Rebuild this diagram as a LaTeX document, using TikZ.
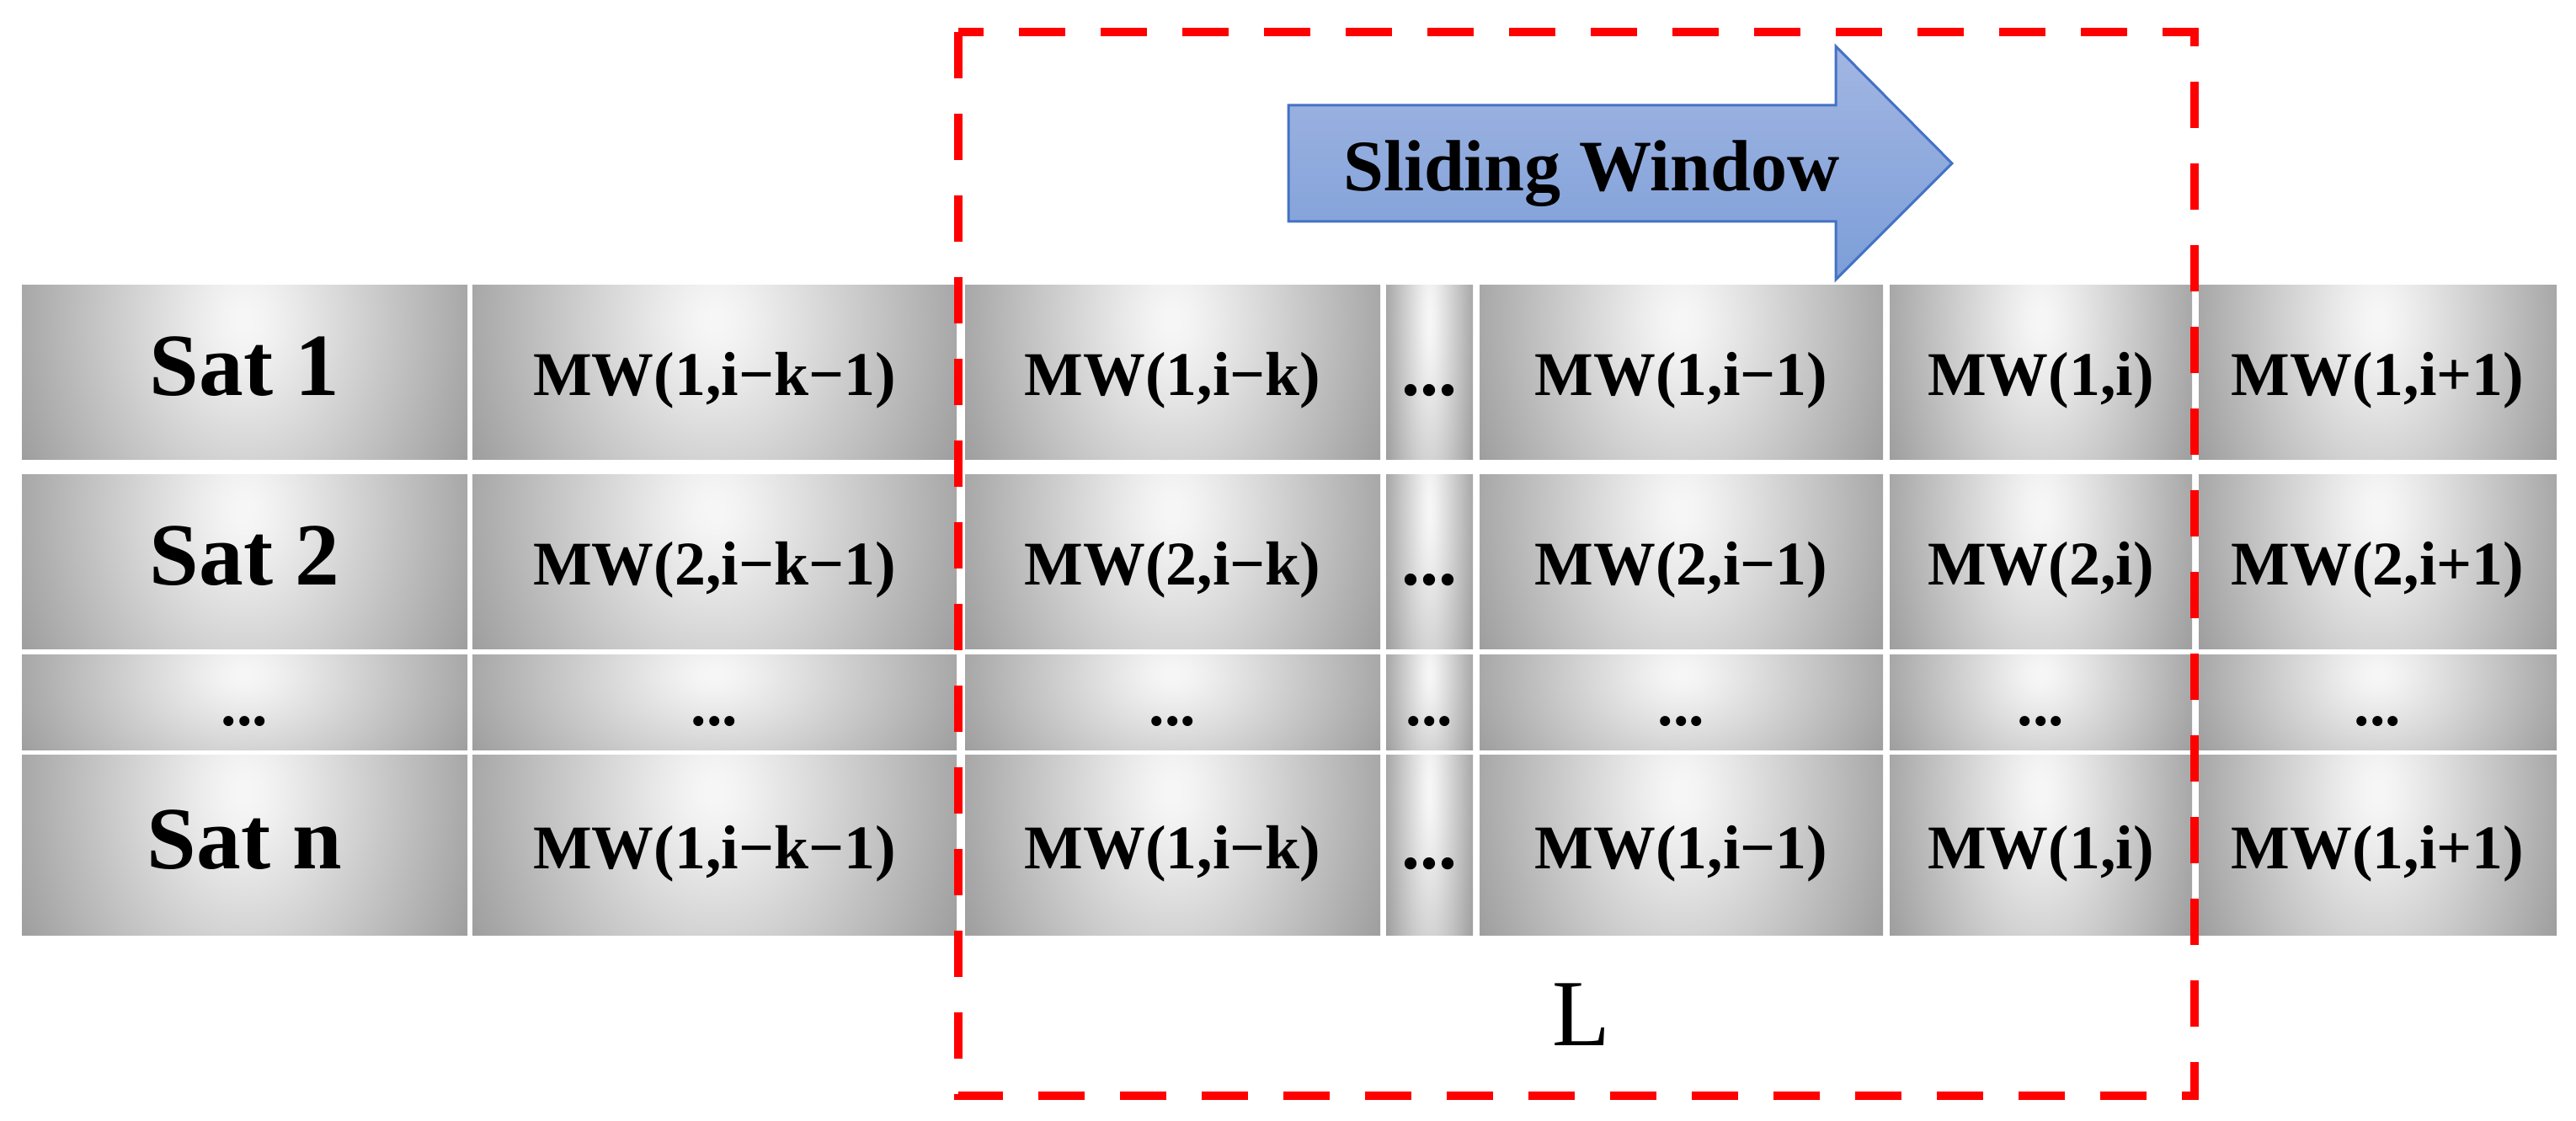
\documentclass[tikz,border=0pt]{standalone}
\usepackage{fontspec}
\setmainfont{Liberation Serif}
\usetikzlibrary{shadings}

% soft gray cell face: bright spot near the top, darker towards the sides
\pgfdeclarefunctionalshading{cellshade}{\pgfpoint{-50bp}{-50bp}}{\pgfpoint{50bp}{50bp}}{}{
  15 sub 25 div 0.31 mul dup mul
  exch 25 div dup mul
  add 0.01 add sqrt 0.34 mul
  1 exch sub dup dup
}

\begin{document}
\begin{tikzpicture}[line join=miter]
  % ----- styles & colors -----
  \definecolor{winred}{RGB}{255,0,0}
  \definecolor{arrowtop}{RGB}{162,182,226}
  \definecolor{arrowbot}{RGB}{124,158,216}
  \definecolor{arrowline}{RGB}{68,114,196}
  \tikzset{
    cell/.style={rectangle,shade,shading=cellshade,inner sep=0pt,
      text height=0.55cm,text depth=0pt,
      font=\bfseries\fontsize{21}{21}\selectfont},
    satcell/.style={cell,font=\bfseries\fontsize{30}{30}\selectfont},
    dotcell/.style={cell,font=\bfseries\fontsize{25}{25}\selectfont},
    window/.style={draw=winred,line width=0.1cm,dash pattern=on 0.55cm off 0.42cm},
    slide/.style={draw=arrowline,line width=0.03cm,top color=arrowtop,bottom color=arrowbot}
  }
  \useasboundingbox (0,0) rectangle (30.59,13.31);

  % ----- rows of the table -----
  \foreach \row/\y/\rh/\sat/\sn in {1/8.885/2.07/1/1, 2/6.635/2.07/2/2, 4/3.27/2.14/n/1}{
    \node[satcell,minimum width=5.29cm,minimum height=\rh cm] (c\row1) at (2.905,\y) {Sat \sat};
    \foreach \col/\x/\w/\txt in {2/8.485/5.75/{MW(\sn,i−k−1)},
                                 3/13.925/4.93/{MW(\sn,i−k)},
                                 5/19.965/4.79/{MW(\sn,i−1)},
                                 6/24.235/3.59/{MW(\sn,i)},
                                 7/28.235/4.25/{MW(\sn,i+1)}}
      \node[cell,minimum width=\w cm,minimum height=\rh cm] (c\row\col) at (\x,\y) {\txt};
    \node[dotcell,minimum width=1.03cm,minimum height=\rh cm] (c\row4) at (16.975,\y) {...};
  }

  % the thin row of dots
  \foreach \col/\x/\w in {1/2.905/5.29, 2/8.485/5.75, 3/13.925/4.93, 4/16.975/1.03,
                          5/19.965/4.79, 6/24.235/3.59, 7/28.235/4.25}
    \node[cell,minimum width=\w cm,minimum height=1.13cm] (c3\col) at (\x,4.965) {...};

  % ----- sliding window arrow -----
  \draw[slide] (15.30,10.68) -- (21.80,10.68) -- (21.80,9.99) -- (23.18,11.37)
    -- (21.80,12.76) -- (21.80,12.06) -- (15.30,12.06) -- cycle;
  \node[anchor=base,font=\bfseries\fontsize{24.5}{24.5}\selectfont] (slidetxt) at (18.90,11.04) {Sliding Window};

  % ----- window of length L -----
  \draw[window] (11.38,12.93) rectangle (26.06,0.30);
  \node[anchor=base,font=\fontsize{32}{32}\selectfont] (lenL) at (18.78,0.89) {L};

\end{tikzpicture}
\end{document}
